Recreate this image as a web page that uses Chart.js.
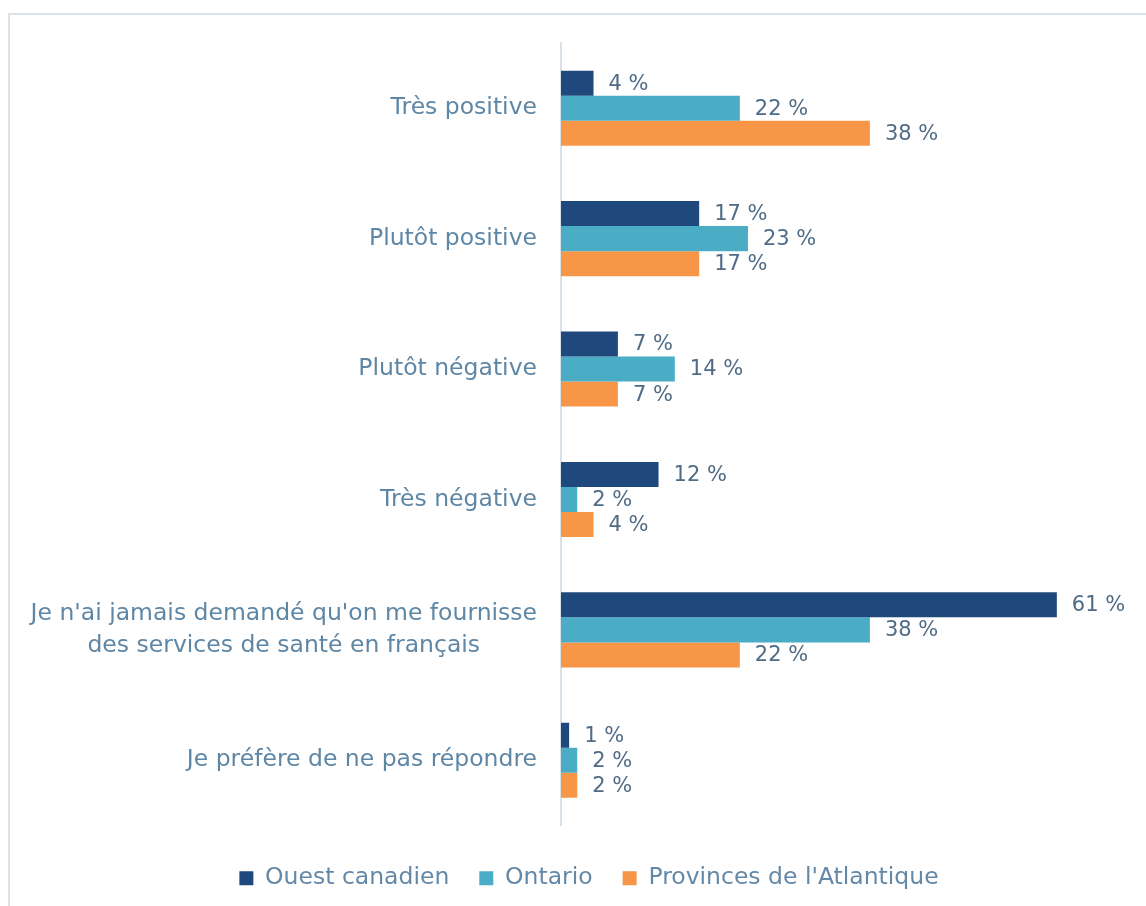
<!DOCTYPE html>
<html>
<head>
<meta charset="utf-8">
<script src="https://cdn.jsdelivr.net/npm/chart.js@4.4.1/dist/chart.umd.min.js"></script>
<style>
  html, body { margin: 0; padding: 0; background: #ffffff; }
  #wrap { position: relative; width: 1146px; height: 906px; overflow: hidden; }
  #frame { position: absolute; left: 8px; top: 13px; width: 1300px; height: 1100px; border: 2px solid #dbe3ea; box-sizing: border-box; }
  #box { position: absolute; left: 0; top: 0; width: 1146px; height: 906px; }
</style>
</head>
<body>
<div id="wrap">
  <div id="frame"></div>
  <div id="box"><canvas id="c"></canvas></div>
</div>
<script>
const categories = [
  "Très positive",
  "Plutôt positive",
  "Plutôt négative",
  "Très négative",
  ["Je n'ai jamais demandé qu'on me fournisse", "des services de santé en français"],
  "Je préfère de ne pas répondre"
];
const seriesNames = ["Ouest canadien", "Ontario", "Provinces de l'Atlantique"];
const ouestCanadien = [4, 17, 7, 12, 61, 1];
const ontario = [22, 23, 14, 2, 38, 2];
const atlantique = [38, 17, 7, 4, 22, 2];
const seriesColors = ["#1F497D", "#4BACC6", "#F79646"];

const FONT = "'DejaVu Sans', 'Liberation Sans', Arial, sans-serif";

const dataLabels = {
  id: 'dataLabels',
  afterDatasetsDraw(chart) {
    const ctx = chart.ctx;
    ctx.save();
    ctx.font = "21px " + FONT;
    ctx.fillStyle = "#4f6b85";
    ctx.textAlign = "left";
    ctx.textBaseline = "middle";
    chart.data.datasets.forEach((ds, i) => {
      const meta = chart.getDatasetMeta(i);
      meta.data.forEach((bar, j) => {
        ctx.fillText(ds.data[j] + " %", bar.x + 15, bar.y + 1);
      });
    });
    ctx.restore();
  }
};

const centerMultiline = {
  id: 'centerMultiline',
  beforeDraw(chart) {
    const scale = chart.scales.y;
    const items = scale.getLabelItems();
    const ctx = chart.ctx;
    items.forEach(item => {
      if (Array.isArray(item.label)) {
        ctx.save();
        ctx.font = item.font.string;
        let w = 0;
        item.label.forEach(l => { w = Math.max(w, ctx.measureText(l).width); });
        ctx.restore();
        if (item.options.textAlign !== 'center') {
          item.options.textAlign = 'center';
          item.options.translation[0] -= w / 2;
        }
      }
    });
  }
};

const legendShift = {
  id: 'legendShift',
  afterLayout(chart) {
    if (chart.legend) {
      chart.legend.left += 14;
      chart.legend.right += 14;
    }
  }
};

new Chart(document.getElementById('c'), {
  type: 'bar',
  data: {
    labels: categories,
    datasets: [
      { label: seriesNames[0], data: ouestCanadien, backgroundColor: seriesColors[0], borderWidth: 0 },
      { label: seriesNames[1], data: ontario, backgroundColor: seriesColors[1], borderWidth: 0 },
      { label: seriesNames[2], data: atlantique, backgroundColor: seriesColors[2], borderWidth: 0 }
    ]
  },
  options: {
    indexAxis: 'y',
    responsive: true,
    maintainAspectRatio: false,
    animation: false,
    datasets: { bar: { barPercentage: 1, categoryPercentage: 0.576 } },
    layout: { padding: { left: 20, right: 16, top: 43, bottom: 6 } },
    scales: {
      x: {
        min: 0, max: 70,
        display: true,
        grid: { display: false, drawTicks: false },
        border: { display: false },
        ticks: { display: false },
        afterFit(scale) { scale.height = 11; }
      },
      y: {
        grid: { display: false, drawTicks: false },
        border: { display: true, color: '#d9e1e9', width: 2 },
        ticks: {
          padding: 24,
          color: '#5e86a5',
          font: { family: FONT, size: 23.5, lineHeight: 1.4 }
        },
        afterFit(scale) { scale.width = 541; }
      }
    },
    plugins: {
      tooltip: { enabled: false },
      legend: {
        position: 'bottom',
        labels: {
          boxWidth: 14,
          boxHeight: 14,
          padding: 30,
          color: '#6388a8',
          font: { family: FONT, size: 23.5 }
        }
      }
    }
  },
  plugins: [dataLabels, centerMultiline, legendShift]
});
</script>
</body>
</html>
